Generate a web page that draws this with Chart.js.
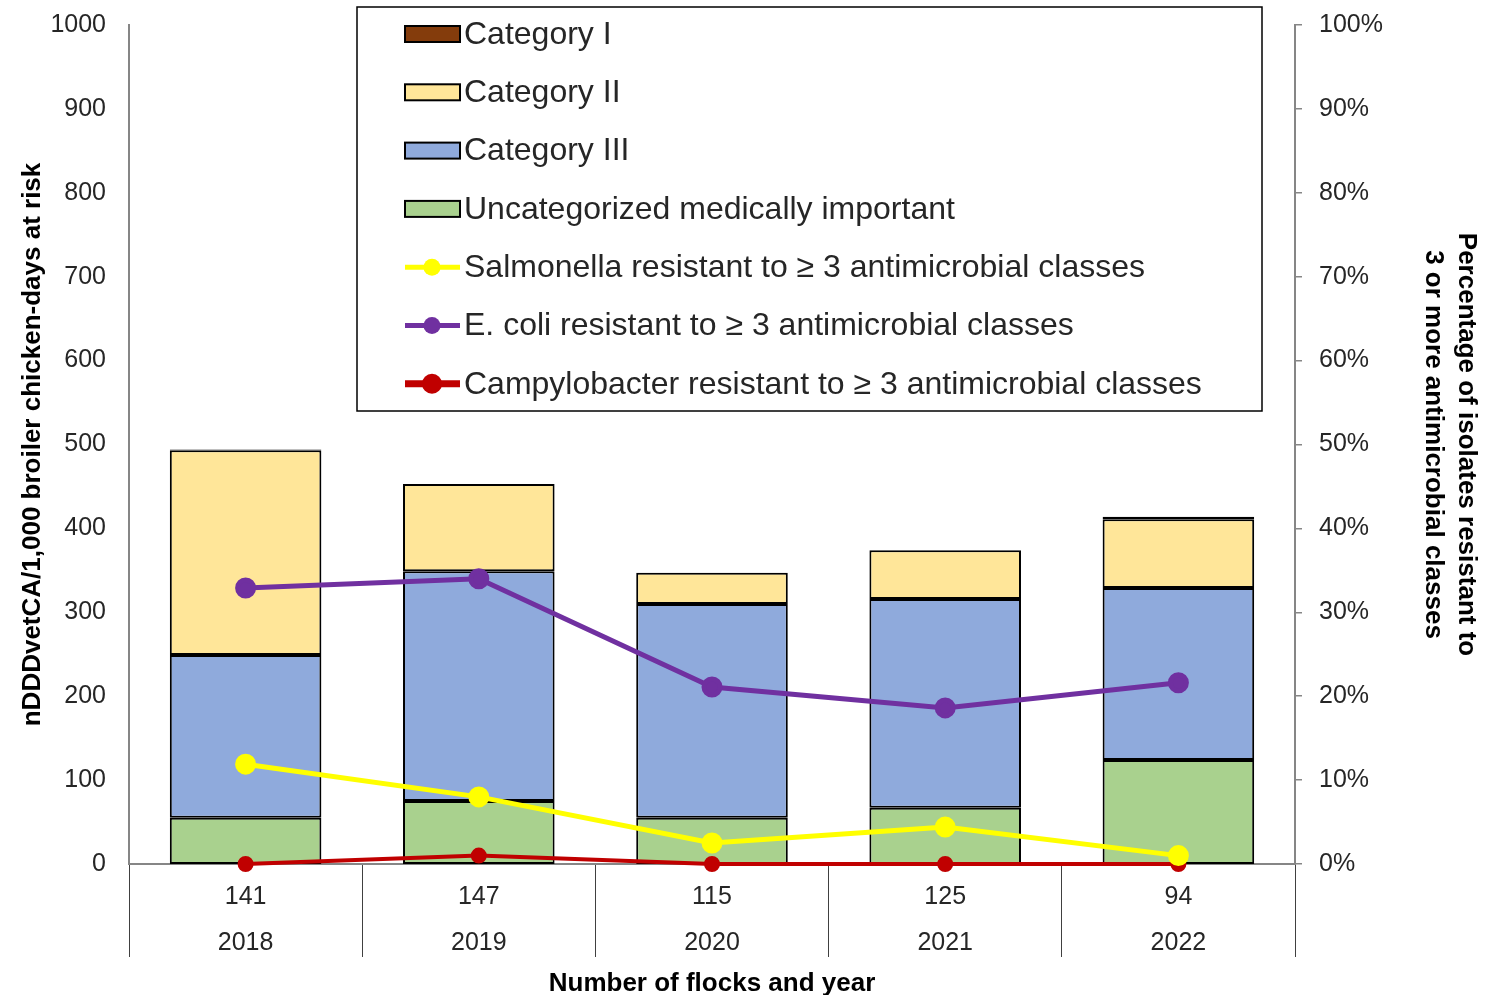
<!DOCTYPE html>
<html>
<head>
<meta charset="utf-8">
<script src="https://cdn.jsdelivr.net/npm/chart.js@4"></script>
<style>
  body { margin: 0; background: #fff; }
  #wrap { width: 1496px; height: 995px; }
</style>
</head>
<body>
<div id="wrap"><canvas id="chart" width="1496" height="995"></canvas></div>
<script>
const years = ["2018", "2019", "2020", "2021", "2022"]
const flocks = ["141", "147", "115", "125", "94"]

// nDDDvetCA per 1,000 chicken-days, stacked bottom to top
const uncategorized = [55, 75, 55, 67, 124]
const category3 = [194, 274, 255, 249, 205]
const category2 = [244, 104, 37, 58, 82]
const category1 = [1, 0, 0, 0, 3]

// % of isolates resistant to >= 3 classes
const salmonella = [11.9, 8.0, 2.5, 4.4, 1.0]
const ecoli = [32.9, 34.0, 21.1, 18.6, 21.6]
const campylobacter = [0, 1.0, 0, 0, 0]

const font = '"Liberation Sans", Arial, sans-serif'
const axisGray = "#868686"
const textColor = "#262626"

const barStyle = { type: "bar", borderColor: "#000", borderWidth: 2, borderSkipped: false, order: 2, stack: "use" }
const lineStyle = { type: "line", yAxisID: "y1", order: 0, clip: false }

const datasets = [
  { ...barStyle, label: "Uncategorized medically important", data: uncategorized, backgroundColor: "#A9D18E" },
  { ...barStyle, label: "Category III", data: category3, backgroundColor: "#8FAADC" },
  { ...barStyle, label: "Category II", data: category2, backgroundColor: "#FFE699" },
  { ...barStyle, label: "Category I", data: category1, backgroundColor: "#843C0C" },
  { ...lineStyle, label: "Salmonella resistant to \u2265 3 antimicrobial classes", data: salmonella,
    borderColor: "#FFFF00", backgroundColor: "#FFFF00", borderWidth: 5, pointRadius: 8 },
  { ...lineStyle, label: "E. coli resistant to \u2265 3 antimicrobial classes", data: ecoli,
    borderColor: "#7030A0", backgroundColor: "#7030A0", borderWidth: 5, pointRadius: 8 },
  { ...lineStyle, label: "Campylobacter resistant to \u2265 3 antimicrobial classes", data: campylobacter,
    borderColor: "#C00000", backgroundColor: "#C00000", borderWidth: 4, pointRadius: 6 }
]

// legend rows in display order (index into datasets)
const legendOrder = [3, 2, 1, 0, 4, 5, 6]

const boxLegend = {
  id: "boxLegend",
  afterDraw(chart) {
    const ctx = chart.ctx
    const x0 = 357, y0 = 7, w = 905, h = 404
    ctx.save()
    ctx.fillStyle = "#fff"
    ctx.fillRect(x0, y0, w, h)
    ctx.strokeStyle = "#000"
    ctx.lineWidth = 1.5
    ctx.strokeRect(x0, y0, w, h)
    ctx.font = "32px " + font
    ctx.textBaseline = "middle"
    ctx.textAlign = "left"
    legendOrder.forEach((di, i) => {
      const ds = chart.data.datasets[di]
      const cy = 34 + i * 58.3
      if (ds.type === "bar") {
        ctx.fillStyle = ds.backgroundColor
        ctx.fillRect(405, cy - 8, 55, 16)
        ctx.strokeStyle = "#000"
        ctx.lineWidth = 2
        ctx.strokeRect(405, cy - 8, 55, 16)
      } else {
        const big = ds.pointRadius < 7
        ctx.strokeStyle = ds.borderColor
        ctx.lineWidth = big ? 7 : 5
        ctx.beginPath()
        ctx.moveTo(405, cy)
        ctx.lineTo(460, cy)
        ctx.stroke()
        ctx.fillStyle = ds.backgroundColor
        ctx.beginPath()
        ctx.arc(432, cy, big ? 10 : 8.5, 0, Math.PI * 2)
        ctx.fill()
      }
      ctx.fillStyle = textColor
      ctx.fillText(ds.label, 464, cy + 1)
    })
    ctx.restore()
  }
}

new Chart(document.getElementById("chart"), {
  type: "bar",
  data: {
    labels: flocks.map((f, i) => [f, years[i]]),
    datasets: datasets
  },
  options: {
    responsive: false,
    animation: false,
    layout: { padding: { top: 25, left: 0, right: 0, bottom: 0 } },
    plugins: { legend: { display: false }, tooltip: { enabled: false } },
    datasets: { bar: { categoryPercentage: 1, barPercentage: 0.65 } },
    scales: {
      x: {
        offset: true,
        grid: { offset: true, drawOnChartArea: false, drawTicks: true, tickLength: 93, color: "#404040", lineWidth: 1 },
        border: { color: axisGray, width: 2 },
        ticks: { color: textColor, font: { family: font, size: 25, lineHeight: 1.84 }, padding: -83, maxRotation: 0 },
        title: { display: true, text: "Number of flocks and year", color: "#000",
          font: { family: font, size: 26, weight: "bold", lineHeight: 1 }, padding: { top: 0, bottom: -2 } },
        afterFit: (s) => { s.height = 131 }
      },
      y: {
        stacked: true,
        min: 0, max: 1000,
        ticks: { stepSize: 100, color: textColor, font: { family: font, size: 25 }, padding: 0,
          callback: (v) => String(v) },
        grid: { display: false, tickLength: 23 },
        border: { color: axisGray, width: 2 },
        title: { display: true, text: "nDDDvetCA/1,000 broiler chicken-days at risk", color: "#000",
          font: { family: font, size: 26, weight: "bold", lineHeight: 1.2 }, padding: { top: 17, bottom: 0 } },
        afterFit: (s) => { s.width = 129; s.paddingTop = 0; s.paddingBottom = 0 }
      },
      y1: {
        position: "right",
        min: 0, max: 100,
        ticks: { stepSize: 10, color: textColor, font: { family: font, size: 25 }, padding: 17,
          callback: (v) => v + "%" },
        grid: { drawOnChartArea: false, tickLength: 7, color: axisGray, lineWidth: 1.5 },
        border: { color: axisGray, width: 2 },
        title: { display: true, text: ["Percentage of isolates resistant to", "3 or more antimicrobial classes"], color: "#000",
          font: { family: font, size: 26, weight: "bold", lineHeight: 1.27 }, padding: { top: 13, bottom: 0 } },
        afterFit: (s) => { s.width = 201; s.paddingTop = 0; s.paddingBottom = 0 }
      }
    }
  },
  plugins: [boxLegend]
})
</script>
</body>
</html>
